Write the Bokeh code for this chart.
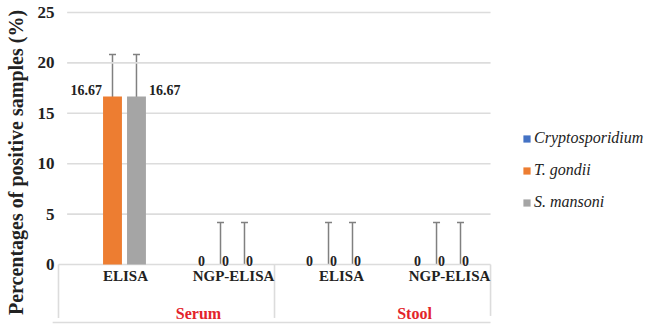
from bokeh.plotting import figure
from bokeh.models import (Range1d, FixedTicker, ColumnDataSource, Whisker, TeeHead,
                          Legend, LegendItem)
from bokeh.embed import file_html
from bokeh.resources import INLINE
from bokeh.core.properties import value

# ---------------- data ----------------
groups = ["Serum", "Stool"]
methods = ["ELISA", "NGP-ELISA", "ELISA", "NGP-ELISA"]
series_names = ["Cryptosporidium", "T. gondii", "S. mansoni"]
crypto = [0, 0, 0, 0]
t_gondii = [16.67, 0, 0, 0]
s_mansoni = [16.67, 0, 0, 0]
t_gondii_err = [4.17, 4.17, 4.17, 4.17]
s_mansoni_err = [4.17, 4.17, 4.17, 4.17]
crypto_labels = ["", "0", "0", "0"]
t_gondii_labels = ["16.67", "0", "0", "0"]
s_mansoni_labels = ["16.67", "0", "0", "0"]
y_ticks = [0, 5, 10, 15, 20, 25]

# ---------------- style ----------------
C_BLUE, C_ORANGE, C_GRAY = "#4472C4", "#ED7D31", "#A5A5A5"
GRID = "#DCDCDC"
ERR = "#808080"
RED = "#E3232B"
FONT = "Liberation Serif"
BAR_W = 0.175
DODGE = 0.222

n = len(methods)
idx = list(range(n))
x_start, x_end = -0.574, 4.944

p = figure(width=646, height=324, output_backend="svg", toolbar_location=None,
           x_range=Range1d(x_start, x_end), y_range=Range1d(-5.95, 26.19),
           min_border_left=50, min_border_right=0, min_border_top=0, min_border_bottom=0)
p.outline_line_color = None
p.xgrid.visible = False
p.ygrid.visible = False
p.xaxis.visible = False

ax = p.yaxis[0]
ax.ticker = FixedTicker(ticks=y_ticks)
ax.axis_line_color = None
ax.major_tick_line_color = None
ax.minor_tick_line_color = None
ax.major_label_standoff = -10
ax.major_label_text_font = FONT
ax.major_label_text_font_style = "bold"
ax.major_label_text_font_size = "17px"
ax.major_label_text_color = "#222222"
ax.axis_label = "Percentages of positive samples (%)"
ax.axis_label_text_font = FONT
ax.axis_label_text_font_style = "bold"
ax.axis_label_text_font_size = "20px"
ax.axis_label_text_color = "#222222"
ax.axis_label_standoff = 8

# gridlines (from tick values), ending at the last category boundary
grid_right = n - 0.5
p.segment(x0=[-0.42] * (len(y_ticks) - 1), x1=[grid_right] * (len(y_ticks) - 1),
          y0=y_ticks[1:], y1=y_ticks[1:], line_color=GRID, line_width=1.6)

# category box lines
p.segment(x0=[-0.5], x1=[grid_right], y0=[0], y1=[0], line_color=GRID, line_width=1.6)
bounds = [-0.5, (n / 2) - 0.5, grid_right]
p.segment(x0=bounds, x1=bounds, y0=[0] * 3, y1=[-5.3, -5.3, -5.1], line_color=GRID, line_width=1.6)
p.segment(x0=[x_start + 0.02], x1=[grid_right], y0=[-5.75], y1=[-5.75], line_color=GRID, line_width=1.6)

# bars
xs_c = [i - DODGE for i in idx]
xs_t = [i for i in idx]
xs_s = [i + DODGE for i in idx]
r_c = p.vbar(x=xs_c, top=crypto, width=BAR_W, fill_color=C_BLUE, line_color=None)
r_t = p.vbar(x=xs_t, top=t_gondii, width=BAR_W, fill_color=C_ORANGE, line_color=None)
r_s = p.vbar(x=xs_s, top=s_mansoni, width=BAR_W, fill_color=C_GRAY, line_color=None)

# error bars
for xs, vals, errs in [(xs_t, t_gondii, t_gondii_err), (xs_s, s_mansoni, s_mansoni_err)]:
    up = [v + e for v, e in zip(vals, errs)]
    lo = [max(v - e, 0) for v, e in zip(vals, errs)]
    full = [k for k in idx if lo[k] > 0]
    half = [k for k in idx if lo[k] <= 0]
    for sel, lower_head in [(full, True), (half, False)]:
        if not sel:
            continue
        src = ColumnDataSource(dict(base=[xs[k] for k in sel], upper=[up[k] for k in sel],
                                    lower=[lo[k] for k in sel]))
        w = Whisker(source=src, base="base", upper="upper", lower="lower", dimension="height",
                    line_color=ERR, line_width=1.5,
                    upper_head=TeeHead(size=7, line_color=ERR, line_width=1.5),
                    lower_head=TeeHead(size=7, line_color=ERR, line_width=1.5) if lower_head else None)
        p.add_layout(w)

# data labels
lbl_style = dict(text_font=value(FONT), text_font_style="bold", text_font_size="14px",
                 text_color="#222222")
zx, zy, zt = [], [], []
for xs, vals, labs in [(xs_c, crypto, crypto_labels), (xs_t, t_gondii, t_gondii_labels),
                       (xs_s, s_mansoni, s_mansoni_labels)]:
    for k in idx:
        if labs[k] and vals[k] == 0:
            zx.append(xs[k]); zy.append(vals[k]); zt.append(labs[k])
p.text(x=zx, y=zy, text=zt, text_align="center", text_baseline="bottom",
       x_offset=5, y_offset=1, **lbl_style)
tx = [xs_t[k] - BAR_W / 2 for k in idx if t_gondii[k] > 0]
ty = [t_gondii[k] for k in idx if t_gondii[k] > 0]
tt = [t_gondii_labels[k] for k in idx if t_gondii[k] > 0]
p.text(x=tx, y=ty, text=tt, text_align="right", text_baseline="middle",
       x_offset=-1, y_offset=-6, **lbl_style)
sx = [xs_s[k] + BAR_W / 2 for k in idx if s_mansoni[k] > 0]
sy = [s_mansoni[k] for k in idx if s_mansoni[k] > 0]
st = [s_mansoni_labels[k] for k in idx if s_mansoni[k] > 0]
p.text(x=sx, y=sy, text=st, text_align="left", text_baseline="middle",
       x_offset=3, y_offset=-6, **lbl_style)

# category labels
p.text(x=idx, y=[0] * n, text=methods, text_align="center", text_baseline="top",
       x_offset=13, y_offset=3, text_font=value(FONT), text_font_style="bold",
       text_font_size="15px", text_color="#222222")
gcent = [g * (n // len(groups)) + (n // len(groups) - 1) / 2 for g in range(len(groups))]
p.text(x=gcent, y=[-4.85] * len(groups), text=groups, text_align="center", text_baseline="middle",
       x_offset=32, text_font=value(FONT), text_font_style="bold", text_font_size="16px",
       text_color=RED)

# legend
legend = Legend(items=[LegendItem(label=series_names[0], renderers=[r_c]),
                       LegendItem(label=series_names[1], renderers=[r_t]),
                       LegendItem(label=series_names[2], renderers=[r_s])],
                location=(472, 112), orientation="vertical",
                glyph_width=9, glyph_height=9, label_height=20, spacing=12,
                label_standoff=3, padding=0, margin=0,
                border_line_color=None, background_fill_alpha=0,
                label_text_font=FONT, label_text_font_style="italic",
                label_text_font_size="16px", label_text_color="#222222")
p.add_layout(legend)

open("out.html", "w").write(file_html(p, INLINE))
